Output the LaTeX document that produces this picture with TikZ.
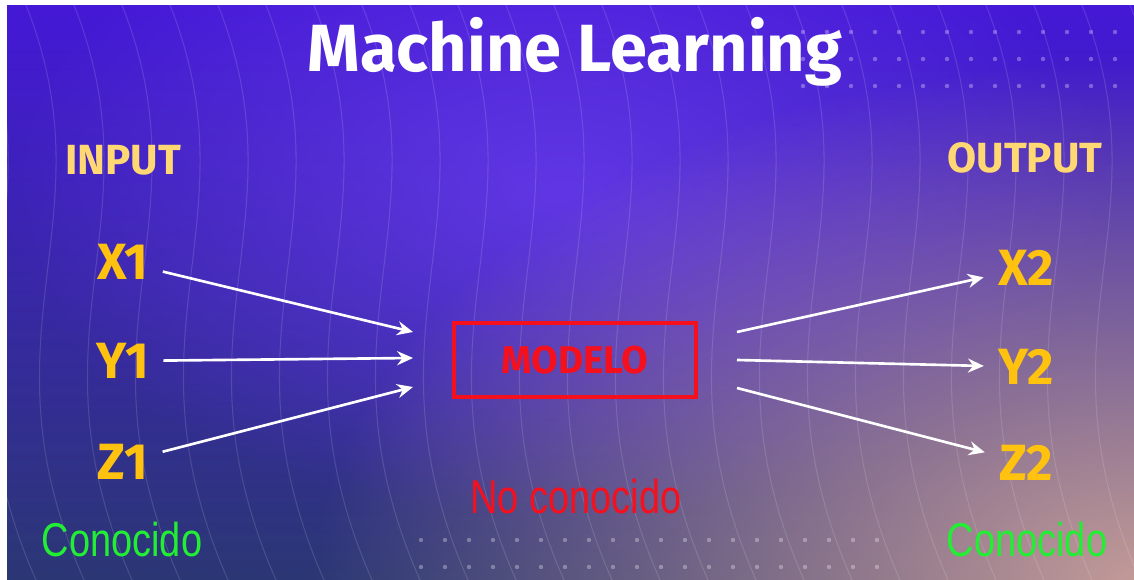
\documentclass[tikz,border=0pt]{standalone}
\usepackage{fontspec}
\setmainfont{Fira Sans}
\newfontfamily\narrowfont[FakeStretch=0.8]{Liberation Sans}
\usetikzlibrary{positioning,arrows.meta,fadings}

\definecolor{bgtop}{HTML}{4418D6}
\definecolor{bgbot}{HTML}{2B3774}
\definecolor{glow}{HTML}{6A3CF0}
\definecolor{rosy}{HTML}{C29A98}
\definecolor{inyellow}{HTML}{FFD874}
\definecolor{varyellow}{HTML}{FFC20E}
\definecolor{modred}{HTML}{F5101E}
\definecolor{okgreen}{HTML}{22EE33}

\tikzfading[name=softglow, inner color=transparent!0, outer color=transparent!100]

\begin{document}
\begin{tikzpicture}[x=0.02cm, y=-0.02cm]
	\tikzstyle{head}=[font=\bfseries\fontsize{24}{26}\selectfont, text=inyellow]
	\tikzstyle{var}=[font=\bfseries\fontsize{29}{32}\selectfont, text=varyellow, inner sep=8pt]
	\tikzstyle{known}=[font=\narrowfont\fontsize{27}{30}\selectfont, text=okgreen]
	\tikzstyle{flow}=[white, line width=1.5pt, -{Stealth[length=9pt, width=8pt, inset=3pt]}]
	
	\useasboundingbox (0,0) rectangle (1134,580);
	\fill[white] (0,0) rectangle (1134,580);
	
	% background
	\begin{scope}
		\clip (7,6) rectangle (1134,580);
		\shade[top color=bgtop, bottom color=bgbot] (7,6) rectangle (1134,580);
		\fill[glow, opacity=.8, path fading=softglow] (560,190) ellipse (560 and 330);
		\fill[rosy, path fading=softglow] (1134,580) ellipse (820 and 520);
		\foreach \i in {0,...,26}
			\draw[white, opacity=.13, line width=.6pt] ({\i*48-120},0) .. controls ({\i*48-30},220) and ({\i*48-170},330) .. ({\i*48-60},580);
		\foreach \c in {0,...,13}
			\foreach \r in {0,1,2}
				\fill[white, opacity=.3] ({803+\c*24},{32+\r*27}) circle (2.2);
		\foreach \c in {0,...,19}
			\foreach \r in {0,1}
				\fill[white, opacity=.3] ({421+\c*24},{540+\r*27}) circle (2.2);
	\end{scope}
	
	\node[white, font=\bfseries\fontsize{38}{42}\selectfont] (title) at (575,52) {Machine Learning};
	
	\node[head] (input) at (123,160) {INPUT};
	\node[head] (output) at (1025,158) {OUTPUT};
	
	\node[var] (x1) at (123,262) {X1};
	\node[var] (y1) at (123,361) {Y1};
	\node[var] (z1) at (123,462) {Z1};
	\node[var] (x2) at (1026,268) {X2};
	\node[var] (y2) at (1026,367) {Y2};
	\node[var] (z2) at (1026,463) {Z2};
	
	\node[draw=modred, line width=2.2pt, minimum width=242*0.02cm, minimum height=74*0.02cm,
		text=modred, font=\bfseries\fontsize{22}{24}\selectfont] (model) at (575,360) {MODELO};
	\node[text=modred, font=\narrowfont\fontsize{27}{30}\selectfont] (unknown) at (576,497) {No conocido};
	
	\node[known] (knownin) at (122,540) {Conocido};
	\node[known] (knownout) at (1027,540) {Conocido};
	
	\coordinate (in1) at (413,332);
	\coordinate (in2) at (413,358);
	\coordinate (in3) at (413,387);
	\coordinate (out1) at (737,332);
	\coordinate (out2) at (737,360);
	\coordinate (out3) at (737,388);
	
	\draw[flow] (x1) -- (in1);
	\draw[flow] (y1) -- (in2);
	\draw[flow] (z1) -- (in3);
	\draw[flow] (out1) -- (x2);
	\draw[flow] (out2) -- (y2);
	\draw[flow] (out3) -- (z2);
\end{tikzpicture}
\end{document}
